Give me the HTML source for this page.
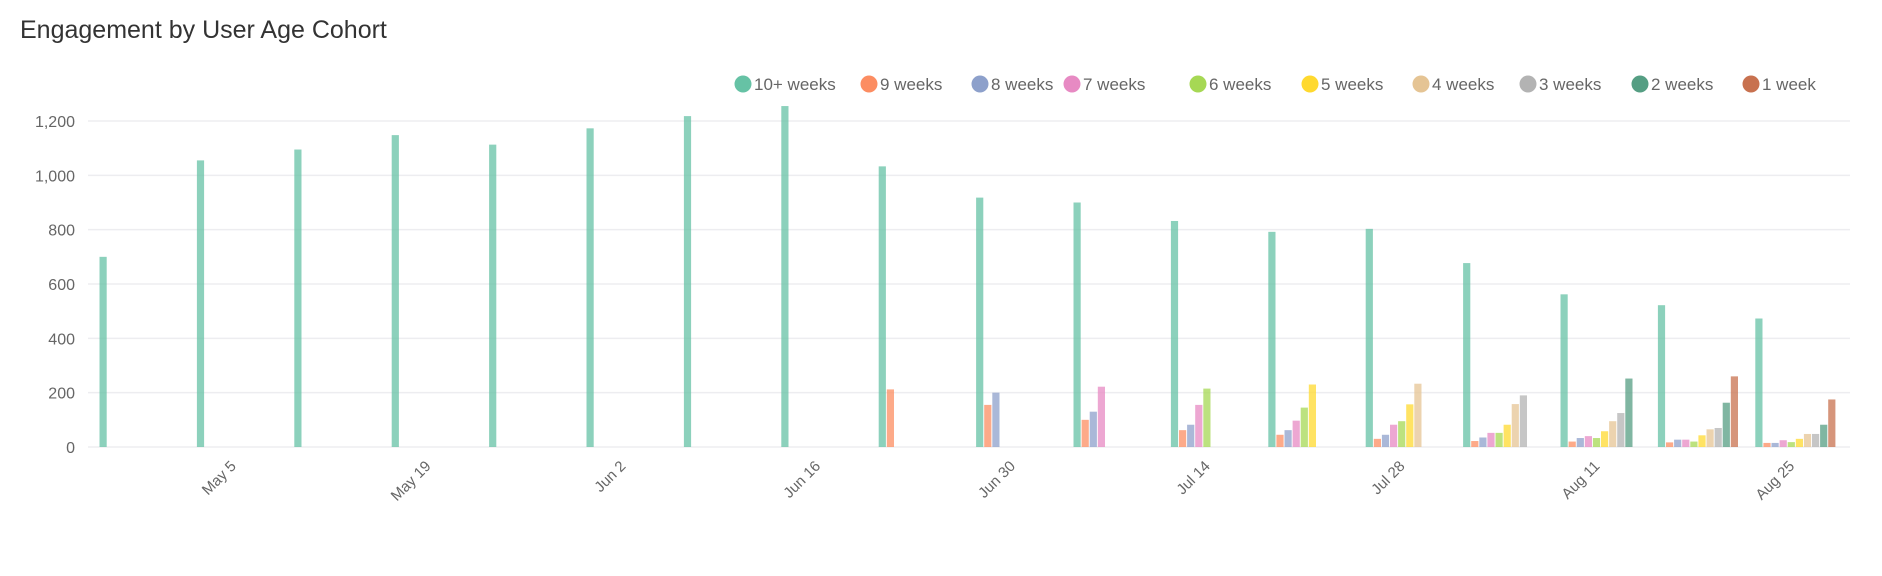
<!DOCTYPE html>
<html><head><meta charset="utf-8"><style>
body{margin:0;background:#fff;font-family:"Liberation Sans",sans-serif;}
svg text{font-family:"Liberation Sans",sans-serif;}
</style></head><body>
<svg id="chart" width="1882" height="571">
<text x="20" y="38" font-size="25" fill="#333">Engagement by User Age Cohort</text>
<g id="grid"></g><g id="legend"></g><g id="bars"></g><g id="xlabels"></g>
</svg>
<script>
const series = ["10+ weeks","9 weeks","8 weeks","7 weeks","6 weeks","5 weeks","4 weeks","3 weeks","2 weeks","1 week"];
const colors = ["#66c2a5","#fc8d62","#8da0cb","#e78ac3","#a6d854","#ffd92f","#e5c494","#b3b3b3","#559e83","#c8714f"];
const weeks = ["Apr 28","May 5","May 12","May 19","May 26","Jun 2","Jun 9","Jun 16","Jun 23","Jun 30","Jul 7","Jul 14","Jul 21","Jul 28","Aug 4","Aug 11","Aug 18","Aug 25"];
const v10 = [700,1055,1095,1148,1113,1173,1218,1255,1033,918,900,832,792,803,677,562,522,473];
const v9 = [0,0,0,0,0,0,0,0,212,155,100,62,45,30,22,20,17,15];
const v8 = [0,0,0,0,0,0,0,0,0,200,130,82,62,45,35,33,27,15];
const v7 = [0,0,0,0,0,0,0,0,0,0,222,155,97,82,52,40,27,25];
const v6 = [0,0,0,0,0,0,0,0,0,0,0,215,145,95,52,33,20,18];
const v5 = [0,0,0,0,0,0,0,0,0,0,0,0,230,157,82,58,43,30];
const v4 = [0,0,0,0,0,0,0,0,0,0,0,0,0,233,158,95,65,48];
const v3 = [0,0,0,0,0,0,0,0,0,0,0,0,0,0,190,125,70,48];
const v2 = [0,0,0,0,0,0,0,0,0,0,0,0,0,0,0,252,163,82];
const v1 = [0,0,0,0,0,0,0,0,0,0,0,0,0,0,0,0,260,175];
const yTicks = [0,200,400,600,800,1000,1200];
const xTickLabels = ["May 5","May 19","Jun 2","Jun 16","Jun 30","Jul 14","Jul 28","Aug 11","Aug 25"];

const allVals=[v10,v9,v8,v7,v6,v5,v4,v3,v2,v1];
const NS="http://www.w3.org/2000/svg";
const X0=88,X1=1850,Y0=447,Y1=121;
const y=v=>Y0-(v/1200)*(Y0-Y1);
const band=97.4, slot=8.1, bw=7.2, first=99.5;
const gx=i=>first+i*band;
function mk(t,a,p){const e=document.createElementNS(NS,t);for(const k in a)e.setAttribute(k,a[k]);p.appendChild(e);return e;}
const grid=document.getElementById('grid');
yTicks.forEach(t=>{
  const l=mk('line',{x1:X0,x2:X1,y1:y(t),y2:y(t),stroke:'#ededf0','stroke-width':1.5},grid);
  
  
  const tx=mk('text',{x:75,y:y(t)+6,'text-anchor':'end','font-size':16,fill:'#666'},grid);
  tx.textContent=t.toLocaleString('en-US');
  
  
});
const bars=document.getElementById('bars');
allVals.forEach((arr,s)=>{
  arr.forEach((v,i)=>{
    if(!v)return;
    const r=mk('rect',{x:gx(i)+s*slot,y:y(v),width:bw,height:Y0-y(v),fill:colors[s],'fill-opacity':0.75},bars);
    
    
  });
});
const xl=document.getElementById('xlabels');
xTickLabels.forEach(lab=>{
  const i=weeks.indexOf(lab);
  const cx=gx(i)+40;
  const t=mk('text',{x:cx,y:Y0+20,'text-anchor':'end','font-size':15,fill:'#666',transform:`rotate(-45 ${cx} ${Y0+20})`},xl);
  t.textContent=lab;
  
  
});
const legX=[743,869,980,1072,1198,1310,1421,1528,1640,1751];
const lg=document.getElementById('legend');
series.forEach((s,k)=>{
  const g=mk('g',{},lg);
  
  
  mk('circle',{cx:legX[k],cy:84,r:8.5,fill:colors[k]},g);
  const t=mk('text',{x:legX[k]+11,y:90,'font-size':17,fill:'#666'},g);
  t.textContent=s;
});
</script>
</body></html>
